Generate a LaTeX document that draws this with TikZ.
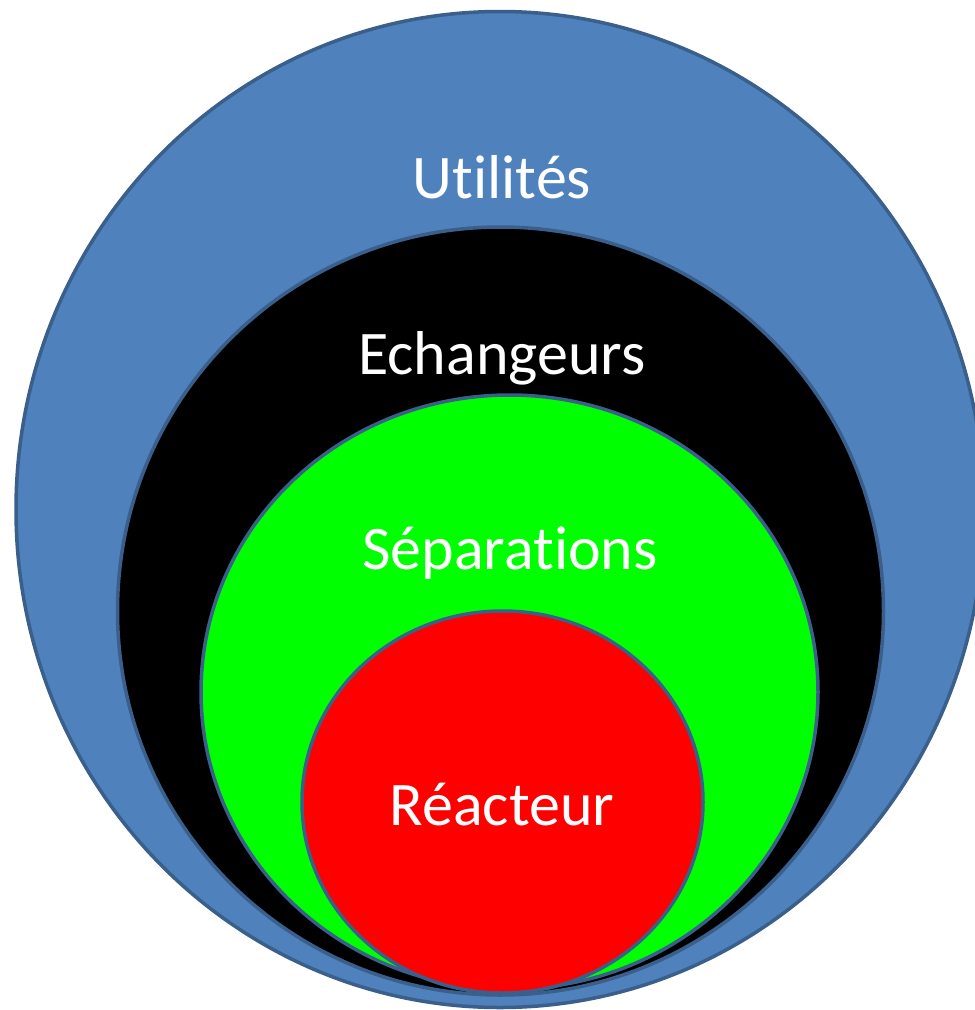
\documentclass[tikz,border=0pt]{standalone}
\usepackage{fontspec}
\setmainfont{Carlito}[Ligatures={NoCommon}]
\definecolor{rimblue}{HTML}{3A5F8B}
\definecolor{utilblue}{HTML}{4F81BD}
\definecolor{sepgreen}{HTML}{00FF00}
\definecolor{reacred}{HTML}{FF0000}
\tikzset{
  ring/.style={draw=rimblue, line width=3.5pt},
  lbl/.style={text=white, font=\fontsize{62}{66}\selectfont, anchor=base, inner sep=0pt}
}
\begin{document}
\begin{tikzpicture}[x=1pt,y=-1pt]
\useasboundingbox (0,0) rectangle (975,1010);
\clip (0,0) rectangle (975,1010);
\fill[white] (0,0) rectangle (975,1010);
\draw[ring, fill=utilblue] (500,509.5) ellipse [x radius=484, y radius=498];
\draw[ring, fill=black] (500.5,611) ellipse [x radius=383, y radius=384];
\draw[ring, fill=sepgreen] (509.5,692) ellipse [x radius=308.5, y radius=297];
\draw[ring, fill=reacred] (502.5,802) ellipse [x radius=200.5, y radius=191];
\node[lbl] (util) at (502,198) {Utilités};
\node[lbl] (ech) at (502,374) {Echangeurs};
\node[lbl] (sep) at (510,569) {Séparations};
\node[lbl] (reac) at (502,825) {Réacteur};
\end{tikzpicture}
\end{document}
